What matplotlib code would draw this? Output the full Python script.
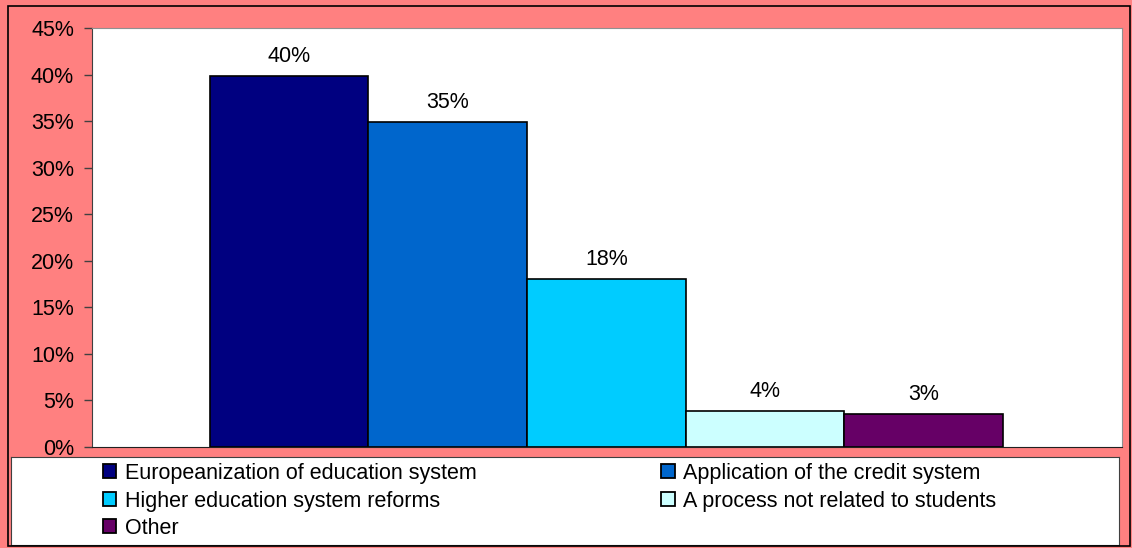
import matplotlib.pyplot as plt
from matplotlib.patches import Rectangle, Patch
from matplotlib.ticker import FuncFormatter

categories = ['Europeanization of education system',
              'Application of the credit system',
              'Higher education system reforms',
              'A process not related to students',
              'Other']
values = [39.8, 34.9, 18.0, 3.9, 3.5]
labels = ['40%', '35%', '18%', '4%', '3%']
colors = ['#000080', '#0066CC', '#00CCFF', '#CCFFFF', '#660066']

plt.rcParams['font.family'] = ['Liberation Sans', 'DejaVu Sans']
FS = 15.5

W, H = 1132, 548
fig = plt.figure(figsize=(W / 100, H / 100), dpi=100)
fig.patch.set_facecolor('#FF8080')

# outer frame of chart area
fig.patches.append(Rectangle((8 / W, 2 / H), 1122 / W, 540 / H, transform=fig.transFigure,
                             fill=False, edgecolor='black', linewidth=1.2))

ax = fig.add_axes([92 / W, (H - 447) / H, 1030 / W, 419 / H])
ax.set_facecolor('white')

pos = list(range(len(values)))
bars = ax.bar(pos, values, width=1.0, color=colors, edgecolor='black', linewidth=1.2)
for b, t in zip(bars, labels):
    ax.annotate(t, (b.get_x() + b.get_width() / 2, b.get_height()),
                xytext=(0, 6.5), textcoords='offset points',
                ha='center', va='bottom', fontsize=FS)

ax.set_xlim(-0.5 - 0.743, 4.5 + 0.75)
ax.set_ylim(0, 45)
ax.set_yticks(range(0, 50, 5))
ax.yaxis.set_major_formatter(FuncFormatter(lambda v, p: f'{v:.0f}%'))
ax.set_xticks([])
ax.tick_params(axis='y', length=6, width=1, color='#404040', labelsize=FS, pad=7)
ax.spines['left'].set_color('#404040')
ax.spines['bottom'].set_color('#202020')
for s in ('top', 'right'):
    ax.spines[s].set_color('#909090')

# legend box
lax = fig.add_axes([11 / W, (H - 545) / H, 1108 / W, 88 / H])
lax.set_facecolor('white')
lax.set_xticks([])
lax.set_yticks([])
for s in lax.spines.values():
    s.set_color('#404040')

order = [0, 2, 4, 1, 3]
handles = [Patch(facecolor=colors[i], edgecolor='black', linewidth=1.3) for i in order]
lax.legend(handles, [categories[i] for i in order], ncol=2, frameon=False,
           loc='center left', bbox_to_anchor=(0.073, 0.5), fontsize=FS,
           handlelength=0.62, handleheight=0.62, handletextpad=0.4,
           columnspacing=8.6, labelspacing=0.3, borderpad=0)

fig.savefig('out.png', dpi=100, facecolor=fig.get_facecolor())
